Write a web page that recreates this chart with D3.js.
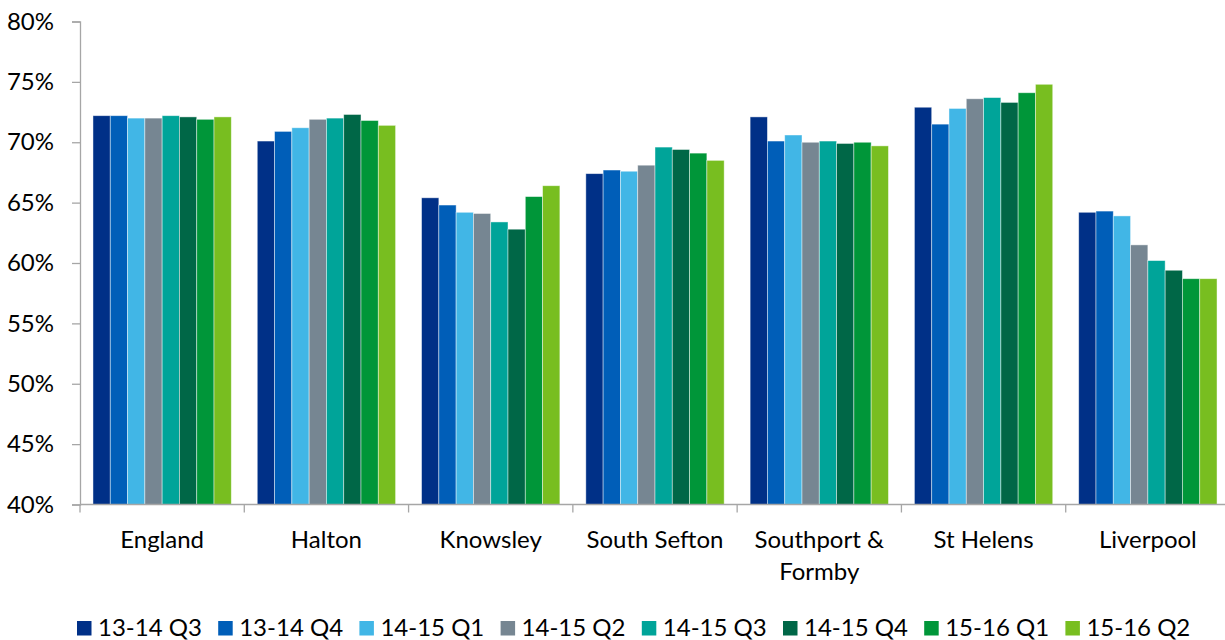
<!DOCTYPE html>
<html>
<head>
<meta charset="utf-8">
<script src="https://cdn.jsdelivr.net/npm/d3@7"></script>
<style>
  html, body { margin: 0; padding: 0; background: #fff; }
  svg { display: block; font-family: Lato, "Open Sans", sans-serif; }
</style>
</head>
<body>
<div id="app"></div>
<script>
// areas along the x axis
const categories = ['England', 'Halton', 'Knowsley', 'South Sefton', 'Southport & Formby', 'St Helens', 'Liverpool'];
// quarters (one bar each per area)
const quarters = ['13-14 Q3', '13-14 Q4', '14-15 Q1', '14-15 Q2', '14-15 Q3', '14-15 Q4', '15-16 Q1', '15-16 Q2'];
const colors = ['#003087', '#005EB8', '#41B6E6', '#768692', '#00A499', '#006747', '#009639', '#78BE20'];

// values (%) per quarter, one per area in category order
const q1314_3 = [72.2, 70.1, 65.4, 67.4, 72.1, 72.9, 64.2];
const q1314_4 = [72.2, 70.9, 64.8, 67.7, 70.1, 71.5, 64.3];
const q1415_1 = [72.0, 71.2, 64.2, 67.6, 70.6, 72.8, 63.9];
const q1415_2 = [72.0, 71.9, 64.1, 68.1, 70.0, 73.6, 61.5];
const q1415_3 = [72.2, 72.0, 63.4, 69.6, 70.1, 73.7, 60.2];
const q1415_4 = [72.1, 72.3, 62.8, 69.4, 69.9, 73.3, 59.4];
const q1516_1 = [71.9, 71.8, 65.5, 69.1, 70.0, 74.1, 58.7];
const q1516_2 = [72.1, 71.4, 66.4, 68.5, 69.7, 74.8, 58.7];
const series = [q1314_3, q1314_4, q1415_1, q1415_2, q1415_3, q1415_4, q1516_1, q1516_2];

const yTicks = [40, 45, 50, 55, 60, 65, 70, 75, 80];

const WIDTH = 1225, HEIGHT = 640;
const axisColor = '#A6A6A6';

const svg = d3.select('#app').append('svg')
  .attr('width', WIDTH).attr('height', HEIGHT)
  .attr('viewBox', [0, 0, WIDTH, HEIGHT]);

// plot runs past the right edge a little, like the original
const x = d3.scaleBand().domain(categories).range([80, 1230]).paddingInner(0.158).paddingOuter(0.079);
const x1 = d3.scaleBand().domain(quarters).range([0, x.bandwidth()]);
const y = d3.scaleLinear().domain([40, 80]).range([504.5, 21.5]);

// bars
const groups = svg.append('g').selectAll('g')
  .data(categories)
  .join('g')
  .attr('transform', d => `translate(${x(d)},0)`);

groups.selectAll('rect')
  .data((c, ci) => quarters.map((q, qi) => ({ q, qi, v: series[qi][ci] })))
  .join('rect')
  .attr('x', d => x1(d.q))
  .attr('width', x1.bandwidth())
  .attr('y', d => y(d.v))
  .attr('height', d => y(40) - y(d.v))
  .attr('fill', d => colors[d.qi])
  .attr('stroke', 'rgba(255,255,255,0.55)')
  .attr('stroke-width', 0.8);

// y axis
const yAxis = svg.append('g')
  .attr('transform', 'translate(80,0)')
  .call(d3.axisLeft(y).tickValues(yTicks).tickFormat(d => d + '%').tickSize(8).tickPadding(18));
yAxis.select('.domain').attr('stroke', axisColor).attr('stroke-width', 1.3);
yAxis.selectAll('.tick line').attr('stroke', axisColor).attr('stroke-width', 1.3);
yAxis.selectAll('.tick text')
  .attr('fill', '#000')
  .style('font-size', '24px')
  .style('font-family', 'Lato, sans-serif');

// x axis line and ticks at group boundaries
const xAxis = svg.append('g');
xAxis.append('line')
  .attr('x1', 80).attr('x2', WIDTH)
  .attr('y1', y(40)).attr('y2', y(40))
  .attr('stroke', axisColor).attr('stroke-width', 1.3);
const step = x.step();
xAxis.selectAll('line.tk')
  .data(d3.range(categories.length + 1))
  .join('line')
  .attr('class', 'tk')
  .attr('x1', i => 80 + i * step).attr('x2', i => 80 + i * step)
  .attr('y1', y(40)).attr('y2', y(40) + 8)
  .attr('stroke', axisColor).attr('stroke-width', 1.3);

// category labels (wrap "Southport & Formby")
xAxis.selectAll('text')
  .data(categories)
  .join('text')
  .attr('text-anchor', 'middle')
  .attr('font-size', 24)
  .attr('fill', '#000')
  .each(function (d) {
    const cx = x(d) + x.bandwidth() / 2;
    const lines = d === 'Southport & Formby' ? ['Southport &', 'Formby'] : [d];
    d3.select(this).selectAll('tspan')
      .data(lines)
      .join('tspan')
      .attr('x', cx)
      .attr('y', (l, i) => 548 + i * 32)
      .text(l => l);
  });

// legend
const legend = svg.append('g').selectAll('g')
  .data(quarters)
  .join('g')
  .attr('transform', (d, i) => `translate(${77 + i * 141.2},0)`);
legend.append('rect')
  .attr('x', 0).attr('y', 621)
  .attr('width', 14.5).attr('height', 14.5)
  .attr('fill', (d, i) => colors[i]);
legend.append('text')
  .attr('x', 21).attr('y', 636)
  .attr('font-size', 24)
  .attr('fill', '#000')
  .text(d => d);
</script>
</body>
</html>
